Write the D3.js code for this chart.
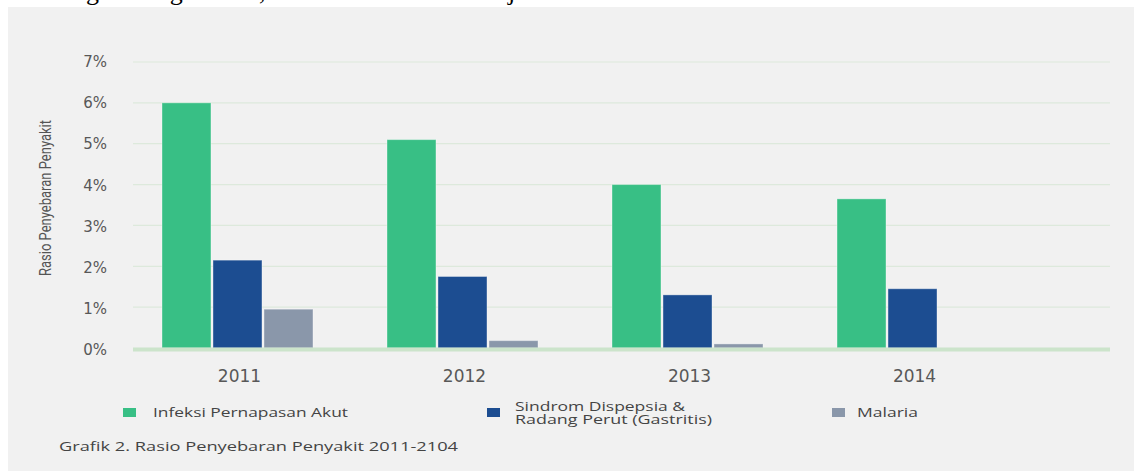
<!DOCTYPE html>
<html>
<head>
<meta charset="utf-8">
<script src="https://cdn.jsdelivr.net/npm/d3@7"></script>
<style>
  html, body { margin: 0; padding: 0; background: #ffffff; }
  svg { display: block; }
</style>
</head>
<body>
<svg id="chart" width="1134" height="471"></svg>
<script>
// Disease prevalence ratio (%) per year
const years = ["2011", "2012", "2013", "2014"];
const seriesNames = ["Infeksi Pernapasan Akut", "Sindrom Dispepsia & Radang Perut (Gastritis)", "Malaria"];
const ispa = [6.0, 5.1, 4.0, 3.65];
const gastritis = [2.15, 1.75, 1.3, 1.45];
const malaria = [0.95, 0.18, 0.1, 0];
const yTicks = [0, 1, 2, 3, 4, 5, 6, 7];
const colors = ["#38bf85", "#1c4d91", "#8a97aa"];

const seriesValues = [ispa, gastritis, malaria];
const rows = years.map((yr, i) => ({ year: yr, values: seriesValues.map(s => s[i]) }));

const svg = d3.select("#chart");

// page strip: last line of the running text above the figure
svg.append("text")
  .attr("x", 24).attr("y", -0.5)
  .attr("font-family", "Liberation Serif, Times New Roman, serif")
  .attr("font-size", 26)
  .attr("fill", "#000")
  .attr("word-spacing", 22)
  .text("masing-masing 60%, 2% dan 0% sejak tahun 2014.");

// grey figure panel
svg.append("rect")
  .attr("x", 8).attr("y", 7)
  .attr("width", 1126).attr("height", 464)
  .attr("fill", "#f1f1f1");

const y = d3.scaleLinear().domain([0, 7]).range([348, 62]);
const x0 = d3.scaleBand().domain(years).range([162, 988]).paddingInner(0.329).paddingOuter(0);
const x1 = d3.scaleBand().domain(d3.range(seriesNames.length)).range([0, x0.bandwidth()]).paddingInner(0.04);

const gridLeft = 133, gridRight = 1110;

// horizontal gridlines
svg.append("g")
  .selectAll("line")
  .data(yTicks.filter(t => t > 0))
  .join("line")
  .attr("x1", gridLeft).attr("x2", gridRight)
  .attr("y1", d => y(d)).attr("y2", d => y(d))
  .attr("stroke", "#dde9dc")
  .attr("stroke-width", 1.2);

// y axis tick labels
const yAxis = d3.axisLeft(y).tickValues(yTicks).tickFormat(d => d + "%").tickSize(0).tickPadding(0);
const gy = svg.append("g").attr("transform", "translate(107,0)").call(yAxis);
gy.select(".domain").remove();
gy.selectAll("text")
  .attr("font-family", "DejaVu Sans, Verdana, sans-serif")
  .attr("font-size", 15)
  .attr("fill", "#585858")
  .attr("dy", d => (0.45 - d * 0.02) + "em");

// y axis title
svg.append("text")
  .attr("transform", "translate(51,198) rotate(-90)")
  .attr("text-anchor", "middle")
  .attr("font-family", "Liberation Sans Narrow, Roboto, sans-serif")
  .attr("font-size", 16)
  .attr("fill", "#555")
  .attr("textLength", 156)
  .attr("lengthAdjust", "spacingAndGlyphs")
  .text("Rasio Penyebaran Penyakit");

// bars
const groups = svg.append("g")
  .selectAll("g")
  .data(rows)
  .join("g")
  .attr("transform", d => `translate(${x0(d.year)},0)`);

groups.selectAll("rect")
  .data(d => d.values.map((v, i) => ({ v, i })).filter(e => e.v > 0))
  .join("rect")
  .attr("x", d => x1(d.i))
  .attr("width", x1.bandwidth())
  .attr("y", d => y(d.v))
  .attr("height", d => y(0) - y(d.v))
  .attr("fill", d => colors[d.i])
  .attr("stroke", "rgba(255,255,255,0.35)")
  .attr("stroke-width", 1);

// baseline band
svg.append("rect")
  .attr("x", gridLeft).attr("y", y(0) - 0.5)
  .attr("width", gridRight - gridLeft).attr("height", 4)
  .attr("fill", "#cce4cb");

// year labels
const xAxis = d3.axisBottom(x0).tickSize(0).tickPadding(0);
const gx = svg.append("g").attr("transform", "translate(2,368)").call(xAxis);
gx.select(".domain").remove();
gx.selectAll("text")
  .attr("font-family", "DejaVu Sans, Verdana, sans-serif")
  .attr("font-size", 17)
  .attr("fill", "#585858")
  .attr("dy", "0.8em");

// legend
const legendFont = "Open Sans, Noto Sans, sans-serif";
const legend = [
  { sx: 123, tx: 153, y: 417, lines: [{ t: "Infeksi Pernapasan Akut", w: 195 }] },
  { sx: 487, tx: 515, y: 411, lines: [{ t: "Sindrom Dispepsia &", w: 170 }, { t: "Radang Perut (Gastritis)", w: 197 }] },
  { sx: 832, tx: 857, y: 417, lines: [{ t: "Malaria", w: 61 }] }
];
const lg = svg.append("g");
legend.forEach((item, i) => {
  lg.append("rect")
    .attr("x", item.sx).attr("y", 408)
    .attr("width", 13).attr("height", 9)
    .attr("fill", colors[i]);
  const t = lg.append("text")
    .attr("x", item.tx).attr("y", item.y)
    .attr("font-family", legendFont)
    .attr("font-size", 13)
    .attr("fill", "#444");
  item.lines.forEach((l, j) => {
    t.append("tspan")
      .attr("x", item.tx)
      .attr("dy", j === 0 ? 0 : 13)
      .attr("textLength", l.w)
      .attr("lengthAdjust", "spacingAndGlyphs")
      .text(l.t);
  });
});

// caption
svg.append("text")
  .attr("x", 59).attr("y", 451)
  .attr("font-family", legendFont)
  .attr("font-size", 13)
  .attr("fill", "#444")
  .attr("textLength", 399)
  .attr("lengthAdjust", "spacingAndGlyphs")
  .text("Grafik 2. Rasio Penyebaran Penyakit 2011-2104");
</script>
</body>
</html>
